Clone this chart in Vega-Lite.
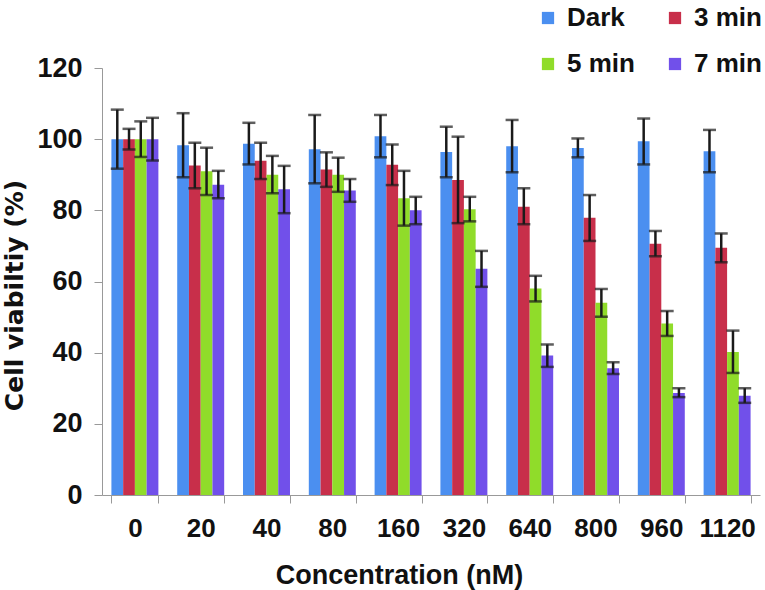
{
  "$schema": "https://vega.github.io/schema/vega-lite/v6.json",
  "width": 658,
  "height": 427,
  "autosize": {"type": "none"},
  "padding": {"left": 102, "top": 68, "right": 5, "bottom": 95},
  "background": "white",
  "config": {
    "view": {"stroke": null},
    "font": "Liberation Sans, Arial, sans-serif"
  },
  "data": {
    "values": [
      {"conc": "0", "time": "Dark", "v": 100, "lo": 91.7, "hi": 108.3},
      {"conc": "0", "time": "3 min", "v": 100, "lo": 97.1, "hi": 102.9},
      {"conc": "0", "time": "5 min", "v": 100, "lo": 95, "hi": 105},
      {"conc": "0", "time": "7 min", "v": 100, "lo": 94, "hi": 106},
      {"conc": "20", "time": "Dark", "v": 98.3, "lo": 89.3, "hi": 107.3},
      {"conc": "20", "time": "3 min", "v": 92.6, "lo": 86.2, "hi": 99},
      {"conc": "20", "time": "5 min", "v": 91, "lo": 84.3, "hi": 97.6},
      {"conc": "20", "time": "7 min", "v": 87.2, "lo": 83.4, "hi": 91.1},
      {"conc": "40", "time": "Dark", "v": 98.7, "lo": 92.9, "hi": 104.6},
      {"conc": "40", "time": "3 min", "v": 93.9, "lo": 88.8, "hi": 99},
      {"conc": "40", "time": "5 min", "v": 90, "lo": 84.8, "hi": 95.3},
      {"conc": "40", "time": "7 min", "v": 85.9, "lo": 79.2, "hi": 92.5},
      {"conc": "80", "time": "Dark", "v": 97.2, "lo": 87.6, "hi": 106.8},
      {"conc": "80", "time": "3 min", "v": 91.5, "lo": 86.6, "hi": 96.3},
      {"conc": "80", "time": "5 min", "v": 90, "lo": 85.2, "hi": 94.8},
      {"conc": "80", "time": "7 min", "v": 85.6, "lo": 82.4, "hi": 88.8},
      {"conc": "160", "time": "Dark", "v": 100.8, "lo": 94.9, "hi": 106.8},
      {"conc": "160", "time": "3 min", "v": 92.8, "lo": 87.1, "hi": 98.5},
      {"conc": "160", "time": "5 min", "v": 83.4, "lo": 75.7, "hi": 91.1},
      {"conc": "160", "time": "7 min", "v": 80, "lo": 76.1, "hi": 83.8},
      {"conc": "320", "time": "Dark", "v": 96.4, "lo": 89.3, "hi": 103.5},
      {"conc": "320", "time": "3 min", "v": 88.5, "lo": 76.4, "hi": 100.7},
      {"conc": "320", "time": "5 min", "v": 80.3, "lo": 76.9, "hi": 83.8},
      {"conc": "320", "time": "7 min", "v": 63.6, "lo": 58.5, "hi": 68.6},
      {"conc": "640", "time": "Dark", "v": 98, "lo": 90.7, "hi": 105.4},
      {"conc": "640", "time": "3 min", "v": 81, "lo": 76.1, "hi": 86.2},
      {"conc": "640", "time": "5 min", "v": 58, "lo": 54.4, "hi": 61.6},
      {"conc": "640", "time": "7 min", "v": 39.2, "lo": 36, "hi": 42.3},
      {"conc": "800", "time": "Dark", "v": 97.5, "lo": 94.9, "hi": 100.2},
      {"conc": "800", "time": "3 min", "v": 77.9, "lo": 71.4, "hi": 84.3},
      {"conc": "800", "time": "5 min", "v": 54, "lo": 50.1, "hi": 57.9},
      {"conc": "800", "time": "7 min", "v": 35.6, "lo": 34, "hi": 37.3},
      {"conc": "960", "time": "Dark", "v": 99.4, "lo": 92.9, "hi": 105.8},
      {"conc": "960", "time": "3 min", "v": 70.6, "lo": 67.1, "hi": 74.2},
      {"conc": "960", "time": "5 min", "v": 48.2, "lo": 44.7, "hi": 51.7},
      {"conc": "960", "time": "7 min", "v": 28.7, "lo": 27.5, "hi": 30},
      {"conc": "1120", "time": "Dark", "v": 96.6, "lo": 90.7, "hi": 102.6},
      {"conc": "1120", "time": "3 min", "v": 69.5, "lo": 65.4, "hi": 73.5},
      {"conc": "1120", "time": "5 min", "v": 40.2, "lo": 34.3, "hi": 46.2},
      {"conc": "1120", "time": "7 min", "v": 27.9, "lo": 25.9, "hi": 30}
    ]
  },
  "encoding": {
    "x": {
      "field": "conc",
      "type": "nominal",
      "sort": ["0", "20", "40", "80", "160", "320", "640", "800", "960", "1120"],
      "scale": {"paddingInner": 0.286, "paddingOuter": 0.143},
      "axis": {
        "title": "Concentration (nM)",
        "labelAngle": 0,
        "labelFontSize": 26,
        "labelFontWeight": "bold",
        "labelColor": "#111111",
        "labelPadding": 12,
        "domainColor": "#999999",
        "tickColor": "#999999",
        "tickSize": 8,
        "tickBand": "extent",
        "titleFontSize": 27,
        "titleFontWeight": "bold",
        "titleColor": "#111111",
        "titleX": 297,
        "titleY": 88,
        "titleAlign": "center",
        "titleBaseline": "alphabetic"
      }
    },
    "xOffset": {
      "field": "time",
      "type": "nominal",
      "sort": ["Dark", "3 min", "5 min", "7 min"],
      "scale": {"paddingInner": 0, "paddingOuter": 0}
    }
  },
  "layer": [
    {
      "mark": {"type": "bar"},
      "encoding": {
        "y": {
          "field": "v",
          "type": "quantitative",
          "scale": {"domain": [0, 120], "nice": false},
          "axis": {
            "title": "Cell viabiltiy (%)",
            "values": [0, 20, 40, 60, 80, 100, 120],
            "grid": false,
            "labelFontSize": 27,
            "labelFontWeight": "bold",
            "labelColor": "#111111",
            "labelPadding": 12,
            "domainColor": "#999999",
            "tickColor": "#999999",
            "tickSize": 8,
            "titleFont": "DejaVu Sans",
            "titleFontSize": 25,
            "titleFontWeight": "bold",
            "titleColor": "#111111",
            "titleAngle": -90,
            "titleX": -80,
            "titleY": 227,
            "titleAlign": "center",
            "titleBaseline": "alphabetic"
          }
        },
        "color": {
          "field": "time",
          "type": "nominal",
          "sort": ["Dark", "3 min", "5 min", "7 min"],
          "scale": {
            "domain": ["Dark", "3 min", "5 min", "7 min"],
            "range": ["#4b8ff0", "#c82f4a", "#90dc2a", "#7150ea"]
          },
          "legend": {
            "title": null,
            "orient": "none",
            "direction": "horizontal",
            "legendX": 433,
            "legendY": -63,
            "columns": 2,
            "columnPadding": 27,
            "rowPadding": 20,
            "padding": 0,
            "symbolType": "square",
            "symbolSize": 150,
            "symbolStrokeWidth": 0,
            "labelOffset": 6,
            "labelFontSize": 26,
            "labelFontWeight": "bold",
            "labelColor": "#111111"
          }
        }
      }
    },
    {
      "mark": {"type": "rule", "color": "#1a1a1a", "strokeWidth": 2.5},
      "encoding": {
        "y": {"field": "lo", "type": "quantitative", "title": "Cell viabiltiy (%)"},
        "y2": {"field": "hi"}
      }
    },
    {
      "mark": {"type": "tick", "color": "#1a1a1a", "thickness": 2.5, "size": 13},
      "encoding": {
        "y": {"field": "lo", "type": "quantitative", "title": "Cell viabiltiy (%)"}
      }
    },
    {
      "mark": {"type": "tick", "color": "#1a1a1a", "thickness": 2.5, "size": 13},
      "encoding": {
        "y": {"field": "hi", "type": "quantitative", "title": "Cell viabiltiy (%)"}
      }
    }
  ]
}
